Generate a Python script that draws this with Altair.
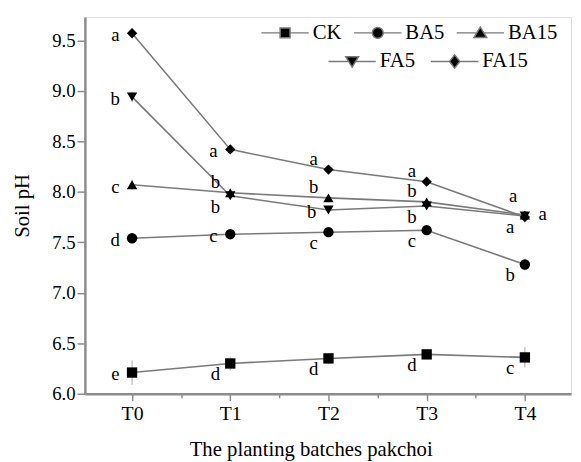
import altair as alt
import pandas as pd

batches = ["T0", "T1", "T2", "T3", "T4"]
series_names = ["CK", "BA5", "BA15", "FA5", "FA15"]

ck = [6.21, 6.30, 6.35, 6.39, 6.36]
ba5 = [7.54, 7.58, 7.60, 7.62, 7.28]
ba15 = [8.07, 7.99, 7.94, 7.90, 7.77]
fa5 = [8.94, 7.96, 7.82, 7.86, 7.76]
fa15 = [9.57, 8.42, 8.22, 8.10, 7.75]

ck_err = [0.12, 0.07, 0.05, 0.04, 0.10]
ba5_err = [0.05, 0.03, 0.03, 0.03, 0.06]
ba15_err = [0.05, 0.03, 0.03, 0.03, 0.03]
fa5_err = [0.05, 0.03, 0.03, 0.03, 0.03]
fa15_err = [0.04, 0.03, 0.03, 0.03, 0.03]

ck_letters = ["e", "d", "d", "d", "c"]
ba5_letters = ["d", "c", "c", "c", "b"]
ba15_letters = ["c", "b", "b", "b", "a"]
fa5_letters = ["b", "b", "b", "b", "a"]
fa15_letters = ["a", "a", "a", "a", "a"]

# label placement category relative to each point
ck_place = ["L", "LL", "LL", "LL", "LL"]
ba5_place = ["L", "L", "LL", "LL", "LL"]
ba15_place = ["L", "UL", "UL", "UL", "U"]
fa5_place = ["L", "LL", "L", "LL", "LL"]
fa15_place = ["L", "L", "UL", "UL", "R"]

values = {"CK": ck, "BA5": ba5, "BA15": ba15, "FA5": fa5, "FA15": fa15}
errors = {"CK": ck_err, "BA5": ba5_err, "BA15": ba15_err, "FA5": fa5_err, "FA15": fa15_err}
letters = {"CK": ck_letters, "BA5": ba5_letters, "BA15": ba15_letters,
           "FA5": fa5_letters, "FA15": fa15_letters}
places = {"CK": ck_place, "BA5": ba5_place, "BA15": ba15_place,
          "FA5": fa5_place, "FA15": fa15_place}

rows = []
for s in series_names:
    for i, b in enumerate(batches):
        v = values[s][i]
        e = errors[s][i]
        rows.append({"series": s, "idx": i, "batch": b, "ph": v,
                     "lo": v - e, "hi": v + e,
                     "letter": letters[s][i], "place": places[s][i]})
df = pd.DataFrame(rows)

FONT = "Liberation Serif"
GRAY = "#7a7a7a"

x_ticks = [0, 0.5, 1, 1.5, 2, 2.5, 3, 3.5, 4]
y_ticks = [6.0 + 0.25 * k for k in range(15)]

x_enc = alt.X(
    "idx:Q",
    scale=alt.Scale(domain=[-0.48, 4.47], nice=False, zero=False),
    axis=alt.Axis(
        values=x_ticks,
        labelExpr="datum.value % 1 === 0 ? 'T' + datum.value : ''",
        tickSize={"condition": {"test": "datum.value % 1 === 0", "value": 7}, "value": 4},
        grid=False, labelOverlap=False, labelFlush=False,
        labelFont=FONT, labelFontSize=20, labelColor="black", labelPadding=3,
        title="The planting batches pakchoi", titleFont=FONT, titleFontSize=21,
        titleFontWeight="normal", titleColor="black", titlePadding=16, titleX=229,
        domainColor="#8c8c8c", domainWidth=2.5, tickColor="#8c8c8c", tickWidth=1.5,
    ),
)
y_enc = alt.Y(
    "ph:Q",
    scale=alt.Scale(domain=[6.0, 9.73], nice=False, zero=False),
    axis=alt.Axis(
        values=y_ticks,
        labelExpr="abs(datum.value * 2 - round(datum.value * 2)) < 0.01 ? format(datum.value, '.1f') : ''",
        tickSize={"condition": {"test": "abs(datum.value * 2 - round(datum.value * 2)) < 0.01", "value": 8}, "value": 4},
        grid=False, labelOverlap=False, labelFlush=False,
        labelFont=FONT, labelFontSize=19, labelColor="black", labelPadding=2,
        title="Soil pH", titleFont=FONT, titleFontSize=21, titleFontWeight="normal",
        titleColor="black", titlePadding=19,
        domainColor="#8c8c8c", domainWidth=2.5, tickColor="#8c8c8c", tickWidth=1.5,
    ),
)

base = alt.Chart(df)

lines = base.mark_line(color=GRAY, strokeWidth=1.6).encode(
    x=x_enc, y=y_enc, detail="series:N", order="idx:Q")

err = base.mark_rule(color="#b5b5b5", strokeWidth=1.2).encode(
    x="idx:Q", y="lo:Q", y2="hi:Q")

points = base.mark_point(filled=True, color="black", opacity=1, size=110).encode(
    x="idx:Q", y="ph:Q",
    shape=alt.Shape("series:N",
                    scale=alt.Scale(domain=series_names,
                                    range=["square", "circle", "triangle-up",
                                           "triangle-down", "diamond"]),
                    legend=None))

offsets = {"L": (-17, 2), "UL": (-15, -11), "LL": (-15, 11), "U": (-12, -19), "R": (18, -3)}
text_layers = []
for p, (dx, dy) in offsets.items():
    text_layers.append(
        base.transform_filter(alt.datum.place == p).mark_text(
            font=FONT, fontSize=19, color="black", dx=dx, dy=dy,
            align="center", baseline="middle").encode(
            x="idx:Q", y="ph:Q", text="letter:N"))

# legend symbols: gray line with a black marker in the middle
sq = "M-1,0H-0.21M0.21,0H1M-0.21,-0.21H0.21V0.21H-0.21Z"
ci = "M-1,0H-0.23M0.23,0H1M0.23,0A0.23,0.23,0,1,1,-0.23,0A0.23,0.23,0,1,1,0.23,0Z"
tu = "M-1,0H-0.14M0.14,0H1M0,-0.24L0.27,0.2H-0.27Z"
td = "M-1,0H-0.14M0.14,0H1M0,0.24L0.27,-0.2H-0.27Z"
di = "M-1,0H-0.22M0.22,0H1M0,-0.28L0.22,0L0,0.28L-0.22,0Z"


def legend_layer(names, paths, lx, ly, cols, cpad):
    return base.transform_filter("false").mark_point(
        filled=False, color=GRAY, fill="black", strokeWidth=1.5, opacity=1).encode(
        x="idx:Q", y="ph:Q",
        shape=alt.Shape("series:N",
                        scale=alt.Scale(domain=names, range=paths),
                        legend=alt.Legend(
                            title=None, orient="none", legendX=lx, legendY=ly,
                            direction="horizontal", columns=cols, padding=0,
                            symbolSize=2304, symbolStrokeWidth=1.5,
                            symbolOpacity=1, labelFont=FONT, labelFontSize=21,
                            labelColor="black", labelOffset=3, columnPadding=cpad)))


leg1 = legend_layer(["CK", "BA5", "BA15"], [sq, ci, tu], 178, -9, 3, 9)
leg2 = legend_layer(["FA5", "FA15"], [td, di], 246, 20, 2, 13)

chart = alt.layer(lines, err, points, *text_layers, leg1, leg2).resolve_scale(
    shape="independent"
).properties(
    width=493, height=382,
    autosize=alt.AutoSizeParams(type="none"),
    padding={"left": 78, "top": 6, "right": 2, "bottom": 68},
).configure_view(stroke="#8c8c8c", strokeWidth=2.5).configure(background="white")

chart.save("out.html", embed_options={"renderer": "svg", "actions": False})
